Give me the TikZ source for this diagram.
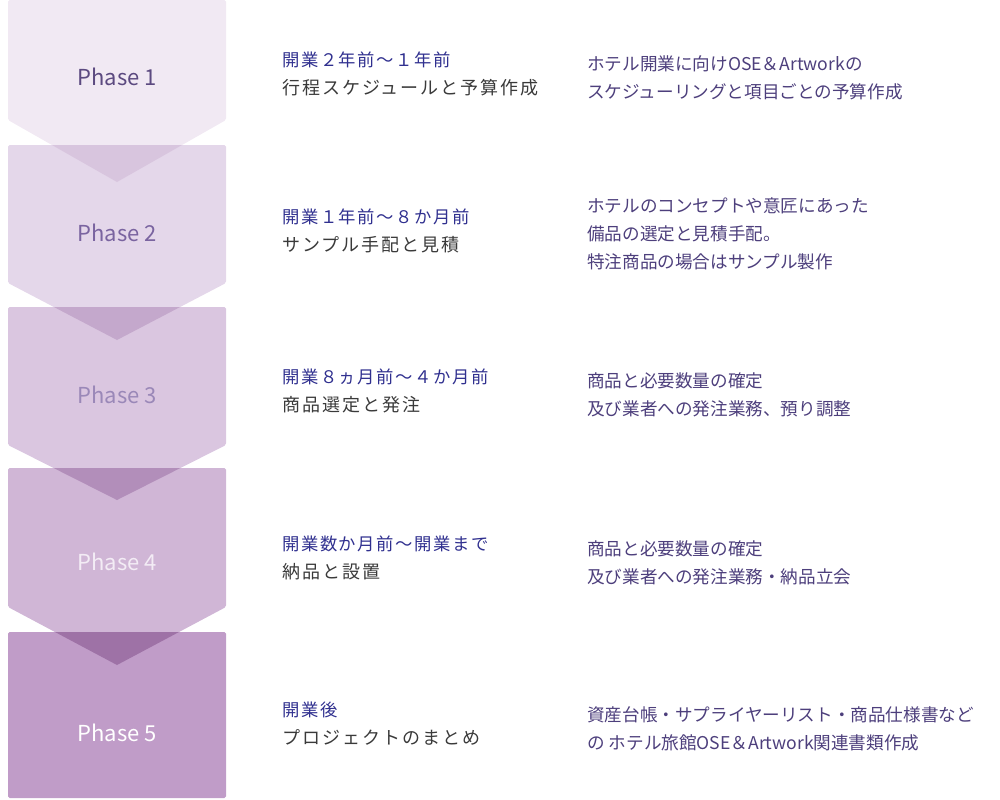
\documentclass[tikz,border=0pt]{standalone}
\usepackage{fontspec}
\setmainfont{Noto Sans CJK JP}
\newfontfamily\jpmidA{Noto Sans CJK JP}[LetterSpace=9]
\newfontfamily\jpmidB{Noto Sans CJK JP}[LetterSpace=11]
\newfontfamily\jpright{Noto Sans CJK JP}
\newfontfamily\phasefont{Noto Sans CJK JP}
\definecolor{boxA}{HTML}{F1E9F3}
\definecolor{boxB}{HTML}{E4D7EA}
\definecolor{boxC}{HTML}{DAC6E0}
\definecolor{boxD}{HTML}{D0B6D6}
\definecolor{boxE}{HTML}{C09CC8}
\definecolor{ovAB}{HTML}{D8C5DE}
\definecolor{ovBC}{HTML}{C4A8CC}
\definecolor{ovCD}{HTML}{B28EBA}
\definecolor{ovDE}{HTML}{9E72A6}
\definecolor{phA}{HTML}{5C4A80}
\definecolor{phB}{HTML}{7A64A0}
\definecolor{phC}{HTML}{9A88B8}
\definecolor{phD}{HTML}{F3ECF5}
\definecolor{phE}{HTML}{FFFFFF}
\definecolor{midblue}{HTML}{30308F}
\definecolor{midgray}{HTML}{3A3A3A}
\definecolor{rightcol}{HTML}{4D3F7C}
\tikzset{
  phasetext/.style={font=\phasefont\fontsize{16.5}{20}\selectfont, inner sep=0pt},
  midtext/.style={anchor=west, align=left, inner sep=0pt, font=\fontsize{13}{21}\selectfont},
  righttext/.style={anchor=west, align=left, inner sep=0pt, text=rightcol, font=\jpright\fontsize{13.2}{21}\selectfont},
}
\newcommand{\mida}[1]{{\jpmidA\fontsize{13}{21}\selectfont\textcolor{midblue}{#1}}}
\newcommand{\midb}[1]{{\jpmidB\fontsize{13.5}{21}\selectfont\textcolor{midgray}{#1}}}
\begin{document}
\begin{tikzpicture}[x=0.75pt,y=-0.75pt]
\useasboundingbox (0,0) rectangle (1000,800);
% chevron boxes
\newcommand{\chev}[3]{(8,#1) -- (226,#1) -- (226,#2) -- (117,#3) -- (8,#2) -- cycle}
\fill[boxA, rounded corners=1.2pt] \chev{0}{120}{182};
\fill[boxB, rounded corners=1.2pt] \chev{145}{283}{340};
\fill[boxC, rounded corners=1.2pt] \chev{307}{445}{500};
\fill[boxD, rounded corners=1.2pt] \chev{468}{607}{665};
\fill[boxE, rounded corners=1.2pt] (8,632) -- (226,632) -- (226,798) -- (8,798) -- cycle;
% overlaps
\begin{scope}\clip (8,145) rectangle (226,800); \fill[ovAB] \chev{0}{120}{182}; \end{scope}
\begin{scope}\clip (8,307) rectangle (226,800); \fill[ovBC] \chev{145}{283}{340}; \end{scope}
\begin{scope}\clip (8,468) rectangle (226,800); \fill[ovCD] \chev{307}{445}{500}; \end{scope}
\begin{scope}\clip (8,632) rectangle (226,800); \fill[ovDE] \chev{468}{607}{665}; \end{scope}
% phase labels
\node[phasetext, text=phA] (p1) at (117,77) {Phase 1};
\node[phasetext, text=phB] (p2) at (117,233) {Phase 2};
\node[phasetext, text=phC] (p3) at (117,395) {Phase 3};
\node[phasetext, text=phD] (p4) at (117,562) {Phase 4};
\node[phasetext, text=phE] (p5) at (117,733) {Phase 5};
% middle column
\node[midtext] (m1) at (282,73.5) {\mida{開業２年前～１年前}\\\midb{行程スケジュールと予算作成}};
\node[midtext] (m2) at (282,231) {\mida{開業１年前～８か月前}\\\midb{サンプル手配と見積}};
\node[midtext] (m3) at (282,390.5) {\mida{開業８ヵ月前～４か月前}\\\midb{商品選定と発注}};
\node[midtext] (m4) at (282,558) {\mida{開業数か月前～開業まで}\\\midb{納品と設置}};
\node[midtext] (m5) at (282,724) {\mida{開業後}\\\midb{プロジェクトのまとめ}};
% right column
\node[righttext] (r1) at (587,78) {ホテル開業に向けOSE＆Artworkの\\スケジューリングと項目ごとの予算作成};
\node[righttext] (r2) at (587,234) {ホテルのコンセプトや意匠にあった\\備品の選定と見積手配。\\特注商品の場合はサンプル製作};
\node[righttext] (r3) at (587,395) {商品と必要数量の確定\\及び業者への発注業務、預り調整};
\node[righttext] (r4) at (587,563) {商品と必要数量の確定\\及び業者への発注業務・納品立会};
\node[righttext] (r5) at (587,729) {資産台帳・サプライヤーリスト・商品仕様書など\\の ホテル旅館OSE＆Artwork関連書類作成};
\end{tikzpicture}
\end{document}
